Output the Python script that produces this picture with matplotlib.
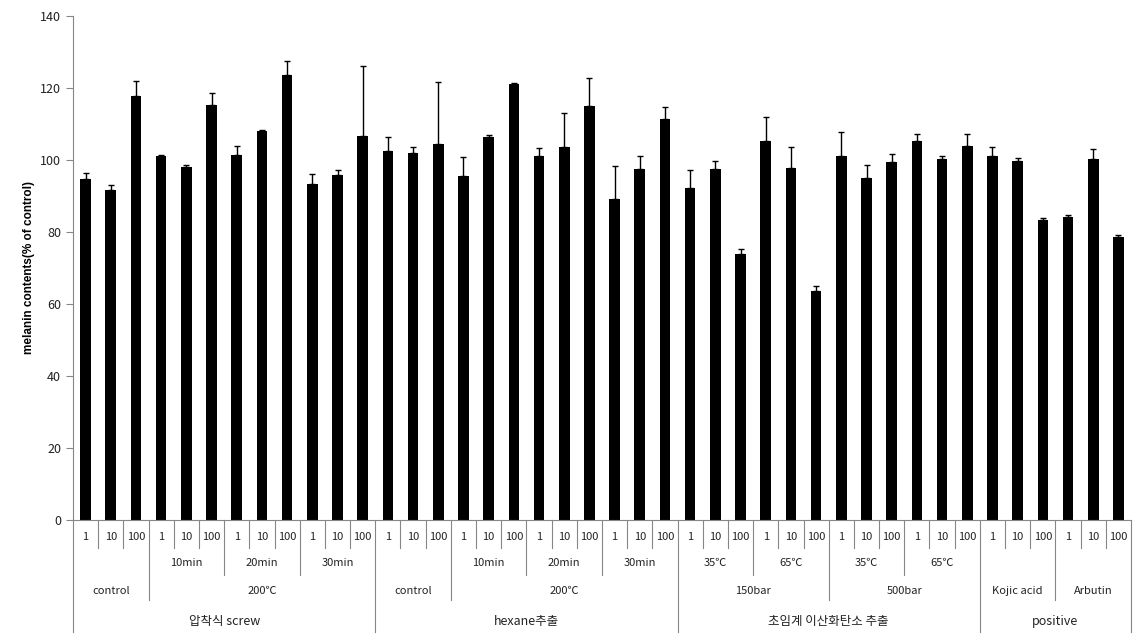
import matplotlib.pyplot as plt
import numpy as np

plt.rcParams['font.family'] = ['Noto Sans CJK KR', 'DejaVu Sans']

# bar heights and upper error
values = [94.7, 91.7, 117.8, 101.1, 98.1, 115.3, 101.4, 108.1, 123.6, 93.3, 95.8, 106.7,
          102.5, 101.9, 104.4, 95.6, 106.4, 121.2, 101.1, 103.6, 115.0, 89.2, 97.4, 111.4,
          92.1, 97.4, 73.9, 105.3, 97.8, 63.6, 101.1, 95.0, 99.4, 105.3, 100.3, 103.9,
          101.1, 99.7, 83.3, 84.2, 100.3, 78.6]
errors = [1.8, 1.3, 4.1, 0.4, 0.4, 3.2, 2.4, 0.2, 3.8, 2.7, 1.3, 19.3,
          3.8, 1.6, 17.2, 5.1, 0.5, 0.2, 2.1, 9.5, 7.7, 9.0, 3.6, 3.2,
          5.0, 2.2, 1.3, 6.6, 5.7, 1.3, 6.6, 3.5, 2.2, 2.0, 0.7, 3.2,
          2.4, 0.8, 0.5, 0.4, 2.7, 0.5]

# category levels (per group of three doses)
doses = ['1', '10', '100']
level2 = ['', '10min', '20min', '30min', '', '10min', '20min', '30min',
          '35℃', '65℃', '35℃', '65℃', '', '']
level3 = ['control', '200℃', '200℃', '200℃', 'control', '200℃', '200℃', '200℃',
          '150bar', '150bar', '500bar', '500bar', 'Kojic acid', 'Arbutin']
level4 = ['압착식 screw'] * 4 + ['hexane추출'] * 4 + ['초임계 이산화탄소 추출'] * 4 + ['positive'] * 2

n = len(values)
x = np.arange(n)
grey = '#868686'

fig = plt.figure(figsize=(11.46, 6.4), dpi=100)
ax = fig.add_axes([73 / 1146, 1 - 520 / 640, (1131 - 73) / 1146, 504 / 640])

ax.bar(x, values, width=0.42, color='black', zorder=2)
ax.errorbar(x, values, yerr=[np.zeros(n), errors], fmt='none', ecolor='black',
            elinewidth=1.0, capsize=2.5, capthick=1.0, zorder=3)

ax.set_xlim(-0.5, n - 0.5)
ax.set_ylim(0, 140)
ax.set_yticks(range(0, 141, 20))
ax.set_xticks([])
ax.tick_params(axis='y', colors=grey, labelcolor='#222222', labelsize=9, length=5, width=0.8)
for s in ['top', 'right']:
    ax.spines[s].set_visible(False)
for s in ['left', 'bottom']:
    ax.spines[s].set_color(grey)
    ax.spines[s].set_linewidth(0.8)

ax.set_ylabel('melanin contents(% of control)', fontsize=8.5, fontweight='bold',
              family='Liberation Sans', labelpad=4)

# expand category keys per bar
keys = []
for g in range(len(level2)):
    for d in doses:
        keys.append((d, level2[g], level3[g], level4[g]))

depth = [-0.0556, -0.109, -0.159, -0.222]
text_y = [-0.0337, -0.0853, -0.141, -0.2004]
sizes = [8, 8, 8, 9]
tr = ax.get_xaxis_transform()

# boundary lines
for b in range(n + 1):
    if b == 0 or b == n:
        lvl = 3
    else:
        a, c = keys[b - 1], keys[b]
        lvl = 0
        for k in range(4):
            if a[k:] != c[k:]:
                lvl = k
    ax.plot([b - 0.5, b - 0.5], [0, depth[lvl]], color=grey, lw=0.8,
            transform=tr, clip_on=False)

# labels for each level
for k in range(4):
    start = 0
    for i in range(1, n + 1):
        if i == n or keys[i][k:] != keys[start][k:]:
            lab = keys[start][k]
            if lab:
                ax.text((start + i - 1) / 2, text_y[k], lab, transform=tr,
                        ha='center', va='center', fontsize=sizes[k], color='#222222')
            start = i

fig.savefig('out.png', dpi=100)
